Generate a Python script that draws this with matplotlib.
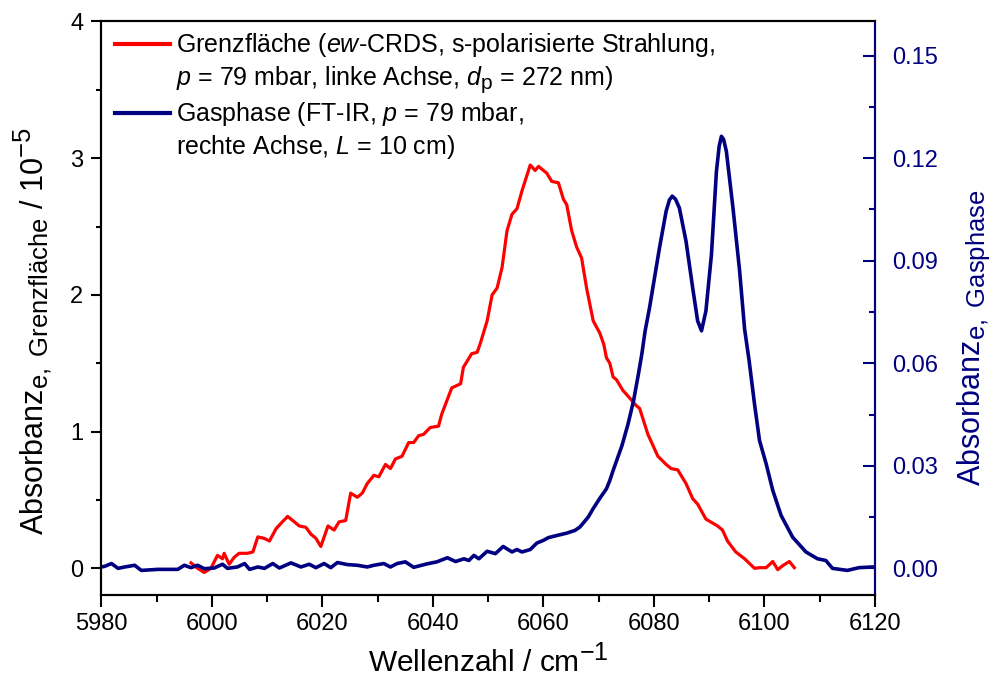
import matplotlib
matplotlib.use("Agg")
import matplotlib.pyplot as plt
import matplotlib._mathtext as mathtext_internal
from matplotlib.lines import Line2D
from matplotlib.ticker import MultipleLocator, FormatStrFormatter

plt.rcParams['font.family'] = ['Liberation Sans', 'DejaVu Sans']
plt.rcParams['mathtext.fontset'] = 'custom'
plt.rcParams['mathtext.rm'] = 'Liberation Sans'
plt.rcParams['mathtext.it'] = 'Liberation Sans:italic'
# larger sub-/superscripts (Origin style)
mathtext_internal.SHRINK_FACTOR = 0.84

# Grenzfläche (ew-CRDS), Absorbanz in 1e-5
red_x = [5996.2, 5997.4, 5998.6, 5999.8, 6001.0, 6001.9, 6002.2, 6003.1, 6004.0, 6004.9,
         6006.4, 6007.4, 6008.3, 6009.4, 6010.4, 6011.6, 6012.5, 6013.7, 6014.9, 6015.8,
         6017.0, 6017.9, 6018.8, 6019.7, 6020.3, 6021.0, 6022.1, 6023.0, 6024.2, 6025.1,
         6026.3, 6027.2, 6028.1, 6029.3, 6030.2, 6031.4, 6032.3, 6033.2, 6034.4, 6035.6,
         6036.5, 6037.4, 6038.3, 6039.5, 6041.0, 6041.6, 6043.4, 6045.0, 6045.5, 6047.0,
         6048.0, 6048.6, 6049.8, 6050.7, 6051.6, 6052.5, 6053.4, 6054.3, 6055.2, 6056.1,
         6057.6, 6058.5, 6059.1, 6059.7, 6060.6, 6061.5, 6062.7, 6063.6, 6064.2, 6065.1,
         6066.0, 6066.9, 6067.8, 6069.0, 6070.2, 6070.9, 6071.4, 6072.0, 6072.6, 6073.2,
         6074.4, 6075.3, 6076.8, 6077.4, 6078.9, 6080.7, 6082.2, 6083.1, 6084.3, 6085.8,
         6087.0, 6087.9, 6089.4, 6091.5, 6092.4, 6093.3, 6094.8, 6096.4, 6098.2, 6099.1,
         6100.3, 6101.5, 6102.4, 6103.3, 6104.5, 6105.4]
red_y = [0.04, 0.00, -0.03, 0.00, 0.095, 0.07, 0.11, 0.03, 0.08, 0.11,
         0.11, 0.12, 0.23, 0.22, 0.20, 0.29, 0.33, 0.38, 0.34, 0.31,
         0.30, 0.25, 0.22, 0.16, 0.23, 0.31, 0.28, 0.34, 0.35, 0.55,
         0.52, 0.55, 0.62, 0.68, 0.67, 0.76, 0.73, 0.80, 0.82, 0.92,
         0.92, 0.97, 0.98, 1.03, 1.04, 1.13, 1.32, 1.35, 1.47, 1.57,
         1.58, 1.65, 1.81, 2.00, 2.05, 2.20, 2.47, 2.59, 2.63, 2.76,
         2.95, 2.91, 2.94, 2.92, 2.89, 2.83, 2.82, 2.70, 2.66, 2.47,
         2.35, 2.27, 2.05, 1.81, 1.72, 1.64, 1.54, 1.50, 1.40, 1.38,
         1.30, 1.26, 1.19, 1.17, 0.98, 0.82, 0.76, 0.73, 0.72, 0.62,
         0.51, 0.47, 0.36, 0.31, 0.28, 0.20, 0.12, 0.07, 0.00, 0.005,
         0.005, 0.05, -0.01, 0.02, 0.05, 0.005]

# Gasphase (FT-IR)
blue_x = [5980.0, 5980.6, 5981.8, 5983.0, 5984.2, 5986.0, 5987.2, 5990.2, 5993.8, 5995.0,
          5996.2, 5997.4, 5998.6, 6000.4, 6001.9, 6002.8, 6004.6, 6005.9, 6006.8, 6008.3,
          6009.5, 6011.0, 6012.2, 6014.3, 6016.1, 6017.6, 6018.8, 6020.3, 6021.5, 6022.7,
          6024.5, 6026.3, 6028.1, 6029.3, 6031.1, 6032.3, 6033.5, 6035.0, 6036.5, 6038.9,
          6040.7, 6042.6, 6044.1, 6045.6, 6046.5, 6047.4, 6048.3, 6049.8, 6051.3, 6052.7,
          6054.3, 6055.2, 6056.1, 6057.6, 6058.8, 6060.0, 6060.9, 6062.4, 6064.2, 6065.7,
          6066.6, 6068.1, 6069.0, 6070.2, 6071.4, 6072.0, 6072.6, 6074.2, 6075.3, 6076.3,
          6077.2, 6077.8, 6078.4, 6079.2, 6081.0, 6082.2, 6082.8, 6083.3, 6083.9, 6084.6,
          6085.8, 6087.0, 6087.9, 6088.6, 6089.4, 6090.4, 6091.3, 6091.8, 6092.2, 6092.6,
          6093.1, 6094.3, 6095.5, 6096.4, 6097.2, 6098.2, 6099.1, 6100.3, 6101.5, 6103.0,
          6105.1, 6107.5, 6109.6, 6111.1, 6112.3, 6115.0, 6117.1, 6119.5, 6120.0]
blue_y = [0.0004, 0.0006, 0.0014, 0.0000, 0.0004, 0.0009, -0.0006, -0.0003, -0.0003, 0.0009,
          0.0002, 0.0009, -0.0001, 0.0001, 0.0012, 0.0000, 0.0004, 0.0014, -0.0003, 0.0004,
          0.0000, 0.0014, 0.0001, 0.0016, 0.0004, 0.0012, 0.0002, 0.0014, 0.0002, 0.0017,
          0.0011, 0.0009, 0.0004, 0.0009, 0.0014, 0.0004, 0.0014, 0.0019, 0.0003, 0.0013,
          0.0019, 0.0031, 0.0020, 0.0028, 0.0023, 0.0038, 0.0028, 0.0050, 0.0043, 0.0064,
          0.0048, 0.0055, 0.0048, 0.0055, 0.0074, 0.0082, 0.0090, 0.0096, 0.0103, 0.0111,
          0.0121, 0.0150, 0.0175, 0.0205, 0.0233, 0.0257, 0.0286, 0.0359, 0.0422, 0.0490,
          0.0570, 0.0627, 0.0695, 0.0763, 0.0938, 0.1045, 0.1078, 0.1089, 0.1080, 0.1054,
          0.0957, 0.0821, 0.0724, 0.0695, 0.0753, 0.0918, 0.1161, 0.1235, 0.1264, 0.1255,
          0.1220, 0.1054, 0.0870, 0.0700, 0.0610, 0.0480, 0.0374, 0.0306, 0.0228, 0.0155,
          0.0091, 0.0048, 0.0028, 0.0023, 0.0000, -0.0006, 0.0002, 0.0004, 0.0004]

navy = '#000080'

fig = plt.figure(figsize=(9.96, 6.79), dpi=100)
ax = fig.add_axes([0.1019, 0.1237, 0.7766, 0.8447])
ax2 = ax.twinx()

ax.plot(red_x, red_y, color='#ff0000', lw=2.3)
ax2.plot(blue_x, blue_y, color=navy, lw=2.6)

ax.set_xlim(5980, 6120)
ax.set_ylim(-0.195, 4)
ax2.set_ylim(-0.0078, 0.16)

ax.xaxis.set_major_locator(MultipleLocator(20))
ax.xaxis.set_minor_locator(MultipleLocator(10))
ax.yaxis.set_major_locator(MultipleLocator(1))
ax.yaxis.set_minor_locator(MultipleLocator(0.5))
ax2.yaxis.set_major_locator(MultipleLocator(0.03))
ax2.yaxis.set_minor_locator(MultipleLocator(0.015))
ax2.yaxis.set_major_formatter(FormatStrFormatter('%.2f'))

for a in (ax, ax2):
    for s in a.spines.values():
        s.set_linewidth(1.5)
ax2.spines['right'].set_color(navy)

ax.tick_params(which='both', direction='out', width=1.5, labelsize=17, top=False, right=False)
ax.tick_params(axis='y', which='major', length=7.2, pad=6)
ax.tick_params(axis='y', which='minor', length=3.6)
ax.tick_params(axis='x', which='major', length=8.5, pad=4.5)
ax.tick_params(axis='x', which='minor', length=4.8)
ax2.tick_params(which='both', direction='in', width=1.5, colors=navy, labelsize=17, pad=12)
ax2.tick_params(which='major', length=8.6)
ax2.tick_params(which='minor', length=4.5)

ax.set_xlabel('Wellenzahl / cm$^\\mathregular{-1}$', fontsize=21.5, labelpad=6)
ax.set_ylabel('Absorbanz$_\\mathregular{e,\\ Grenzfläche}$ / 10$^\\mathregular{-5}$', fontsize=22)
ax.yaxis.set_label_coords(-0.06, 0.46)
ax2.set_ylabel('Absorbanz$_\\mathregular{e,\\ Gasphase}$', fontsize=22, color=navy, rotation=90)
ax2.yaxis.set_label_coords(1.1047, 0.448)

handles = [Line2D([], [], color='#ff0000', lw=3),
           Line2D([], [], color='none'),
           Line2D([], [], color=navy, lw=3),
           Line2D([], [], color='none')]
labels = ['Grenzfläche ($\\mathit{ew}$-CRDS, s-polarisierte Strahlung,',
          '$\\mathit{p}$ = 79 mbar, linke Achse, $\\mathit{d}_\\mathregular{p}$ = 272 nm)',
          'Gasphase (FT-IR, $\\mathit{p}$ = 79 mbar,',
          'rechte Achse, $\\mathit{L}$ = 10 cm)']
ax2.legend(handles, labels, loc='upper left', bbox_to_anchor=(0.004, 1.0), frameon=False,
           fontsize=18, handlelength=2.2, handletextpad=0.25, labelspacing=0.2,
           borderaxespad=0.2, borderpad=0.2)

fig.savefig('out.png', dpi=100)
